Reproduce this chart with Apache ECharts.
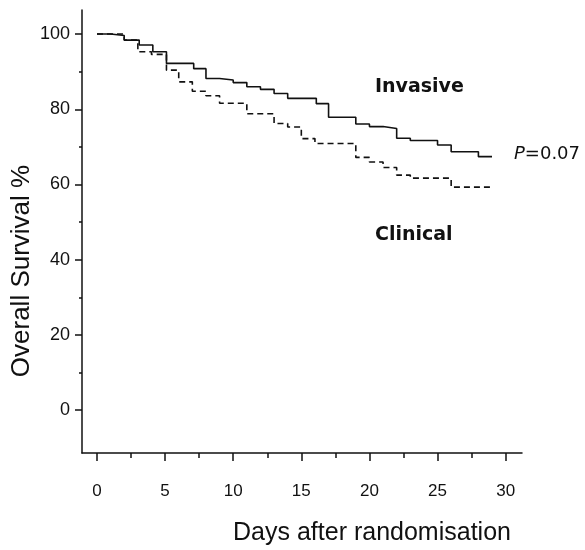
<!DOCTYPE html>
<html>
<head>
<meta charset="utf-8">
<script src="https://cdn.jsdelivr.net/npm/echarts@6/dist/echarts.min.js"></script>
<style>
    html, body { margin: 0; padding: 0; background: #fff; }
    #chart { width: 585px; height: 550px; }
</style>
</head>
<body>
<div id="chart"></div>
<script>
// Kaplan-Meier: overall survival, invasive vs clinical
var invasiveDays = [0, 1, 2, 3.1, 4.1, 5.1, 7.1, 8, 9, 10, 11, 12, 13, 14, 16.1, 17, 19, 20, 21, 22, 23, 25, 26, 28, 29];
var invasiveSurv = [100, 99.6, 98.4, 97.1, 95.3, 92.2, 90.8, 88.2, 87.8, 87.1, 86, 85.3, 84.2, 82.9, 81.5, 77.9, 76.1, 75.4, 74.9, 72.3, 71.7, 70.5, 68.7, 67.4, 67.4];

var clinicalDays = [0, 2, 3, 4, 5.1, 6, 7, 8, 9, 11, 13, 14, 15, 16, 19, 20, 21, 22, 23, 26, 28.9];
var clinicalSurv = [100, 98.4, 95.3, 94.6, 90.4, 87.3, 84.8, 83.6, 81.6, 78.8, 76.2, 75.3, 72.2, 70.9, 67.2, 66, 64.5, 62.5, 61.7, 59.3, 59.3];

var xMajorTicks = [0, 5, 10, 15, 20, 25, 30];
var xMinorTicks = [2.5, 7.5, 12.5, 17.5, 22.5, 27.5];
var yMajorTicks = [0, 20, 40, 60, 80, 100];
var yMinorTicks = [10, 30, 50, 70, 90];

function pairs(xs, ys) {
    var out = [];
    for (var i = 0; i < xs.length; i++) {
        out.push([xs[i], ys[i]]);
    }
    return out;
}

var labelFont = '"Liberation Sans", Arial, sans-serif';
var ink = '#111';

var chart = echarts.init(document.getElementById('chart'), null, { renderer: 'canvas' });

var option = {
    backgroundColor: '#fff',
    animation: false,
    grid: { left: 82, right: 63, top: 10, bottom: 97 },
    xAxis: [
        {
            type: 'value', min: -1.1, max: 31.2, position: 'bottom',
            axisLine: { show: true, onZero: false, lineStyle: { color: ink, width: 1.5 } },
            axisTick: { show: true, customValues: xMajorTicks, length: 8, lineStyle: { color: ink, width: 1.5 } },
            axisLabel: { show: true, customValues: xMajorTicks, margin: 30, color: ink, fontSize: 17, fontFamily: labelFont },
            splitLine: { show: false }
        },
        {
            // minor ticks only
            type: 'value', min: -1.1, max: 31.2, position: 'bottom',
            axisLine: { show: false, onZero: false },
            axisTick: { show: true, customValues: xMinorTicks, length: 5, lineStyle: { color: ink, width: 1.5 } },
            axisLabel: { show: false },
            splitLine: { show: false }
        }
    ],
    yAxis: [
        {
            type: 'value', min: -11.4, max: 106.4, position: 'left',
            axisLine: { show: true, onZero: false, lineStyle: { color: ink, width: 1.5 } },
            axisTick: { show: true, customValues: yMajorTicks, length: 7, lineStyle: { color: ink, width: 1.5 } },
            axisLabel: { show: true, customValues: yMajorTicks, margin: 12, color: ink, fontSize: 18, fontFamily: labelFont },
            splitLine: { show: false }
        },
        {
            type: 'value', min: -11.4, max: 106.4, position: 'left',
            axisLine: { show: false, onZero: false },
            axisTick: { show: true, customValues: yMinorTicks, length: 3, lineStyle: { color: ink, width: 1.5 } },
            axisLabel: { show: false },
            splitLine: { show: false }
        }
    ],
    series: [
        {
            name: 'Invasive', type: 'line', step: 'end',
            xAxisIndex: 0, yAxisIndex: 0,
            data: pairs(invasiveDays, invasiveSurv),
            symbol: 'none',
            lineStyle: { color: ink, width: 1.6, type: 'solid' }
        },
        {
            name: 'Clinical', type: 'line', step: 'end',
            xAxisIndex: 0, yAxisIndex: 0,
            data: pairs(clinicalDays, clinicalSurv),
            symbol: 'none',
            lineStyle: { color: ink, width: 1.6, type: [6, 4] }
        }
    ],
    graphic: [
        {
            type: 'text', left: 375, top: 78,
            style: { text: 'Invasive', fill: ink, font: 'bold 19px "DejaVu Sans", sans-serif' }
        },
        {
            type: 'text', left: 375, top: 226,
            style: { text: 'Clinical', fill: ink, font: 'bold 19px "DejaVu Sans", sans-serif' }
        },
        {
            type: 'text', left: 514, top: 145,
            style: {
                text: '{p|P}{v|=0.07}', fill: ink,
                rich: {
                    p: { fontStyle: 'italic', fontSize: 18, fontFamily: '"DejaVu Sans", sans-serif', fill: ink },
                    v: { fontSize: 18, fontFamily: '"DejaVu Sans", sans-serif', fill: ink }
                }
            }
        },
        {
            type: 'text', x: 372, y: 533,
            style: { text: 'Days after randomisation', fill: ink, align: 'center', verticalAlign: 'middle', font: '25px "Liberation Sans", Arial, sans-serif' }
        },
        {
            type: 'text', x: 22, y: 271, rotation: Math.PI / 2,
            style: { text: 'Overall Survival %', fill: ink, align: 'center', verticalAlign: 'middle', font: '26px "Liberation Sans", Arial, sans-serif' }
        }
    ]
};

chart.setOption(option);

window.addEventListener('resize', function() {
    chart.resize();
});
</script>
</body>
</html>
